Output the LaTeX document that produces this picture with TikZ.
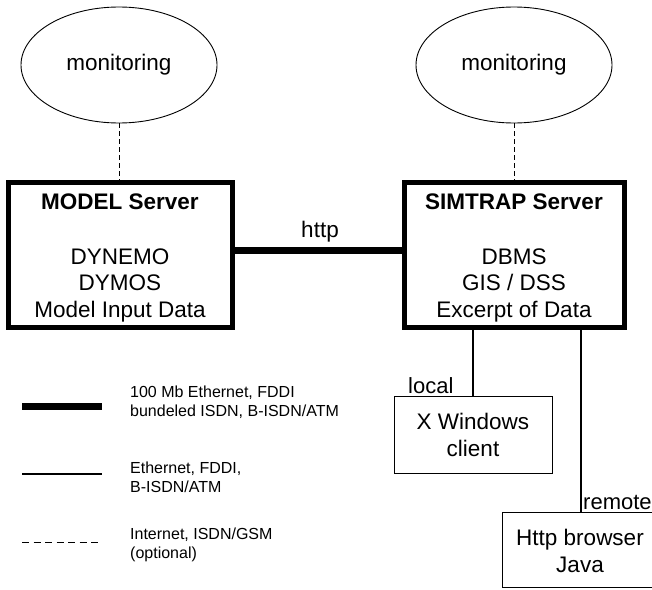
\documentclass[tikz,border=0pt]{standalone}
\usepackage{fontspec}
\setmainfont{Liberation Sans}
\usetikzlibrary{shapes.geometric}
\begin{document}
\begin{tikzpicture}[x=1pt,y=-1pt,
  mainfont/.style={font=\fontsize{22.5}{26.5}\selectfont},
  legfont/.style={font=\fontsize{16}{19}\selectfont},
  cloud/.style={draw,ellipse,line width=0.9pt,inner sep=0pt,minimum width=196pt,minimum height=116pt,mainfont},
  server/.style={draw,rectangle,line width=5pt,inner sep=0pt},
  client/.style={draw,rectangle,line width=1pt,inner sep=0pt},
  thickcon/.style={line width=7pt},
  thincon/.style={line width=1.2pt},
  dashcon/.style={line width=1pt,dash pattern=on 5pt off 3pt},
  txt/.style={inner sep=0pt,align=center,mainfont}]
\useasboundingbox (0,0) rectangle (652,589);
\clip (0,0) rectangle (652,589);

% monitoring ellipses
\node[cloud] (m1) at (119,65) {monitoring};
\node[cloud] (m2) at (514,65) {monitoring};

% servers
\node[server,minimum width=224pt,minimum height=145pt] (s1) at (120,254.5) {};
\node[server,minimum width=220pt,minimum height=145pt] (s2) at (514,254.5) {};

\node[txt,font=\fontsize{22.5}{27}\selectfont\bfseries] (t1) at (120,202) {MODEL Server};
\node[txt] (c1) at (120,285) {DYNEMO\\DYMOS\\Model Input Data};
\node[txt,font=\fontsize{22.5}{27}\selectfont\bfseries] (t2) at (514,202) {SIMTRAP Server};
\node[txt] (c2) at (514,285) {DBMS\\GIS / DSS\\Excerpt of Data};

% dashed links
\draw[dashcon] (m1.south) -- (m1.south |- s1.north);
\draw[dashcon] (m2.south) -- (m2.south |- s2.north);

% http link
\coordinate (h) at (320,250);
\draw[thickcon] (s1.east |- h) -- (s2.west |- h);
\node[txt] (http) at (320,232) {http};

% clients
\node[client,minimum width=158pt,minimum height=77pt] (xw) at (473,434.5) {};
\node[txt] (xwt) at (473,435) {X Windows\\client};
\node[client,minimum width=170pt,minimum height=75pt] (hb) at (587,549.5) {};
\node[txt] (hbt) at (580,551) {Http browser\\Java};

\coordinate (r) at (581,0);
\draw[thincon] (xw.north |- s2.south) -- (xw.north);
\draw[thincon] (r |- s2.south) -- (r |- hb.north);

\node[inner sep=0pt,anchor=base west,font=\fontsize{22}{26}\selectfont] (loc) at (408,393) {local};
\node[inner sep=0pt,anchor=base west,font=\fontsize{22}{26}\selectfont] (rem) at (583,509) {remote};

% legend
\coordinate (l1a) at (22,406); \coordinate (l1b) at (102,406);
\coordinate (l2a) at (22,474); \coordinate (l2b) at (102,474);
\coordinate (l3a) at (22,542); \coordinate (l3b) at (102,542);
\draw[thickcon,line cap=butt] (l1a) -- (l1b);
\draw[thincon] (l2a) -- (l2b);
\draw[line width=1pt,dash pattern=on 7pt off 4.5pt] (l3a) -- (l3b);
\node[legfont,anchor=west,align=left,inner sep=0pt] (lt1) at (130,402.5) {100 Mb Ethernet, FDDI\\bundeled ISDN, B-ISDN/ATM};
\node[legfont,anchor=west,align=left,inner sep=0pt] (lt2) at (130,477.5) {Ethernet, FDDI,\\B-ISDN/ATM};
\node[legfont,anchor=west,align=left,inner sep=0pt] (lt3) at (130,545) {Internet, ISDN/GSM\\(optional)};
\end{tikzpicture}
\end{document}
